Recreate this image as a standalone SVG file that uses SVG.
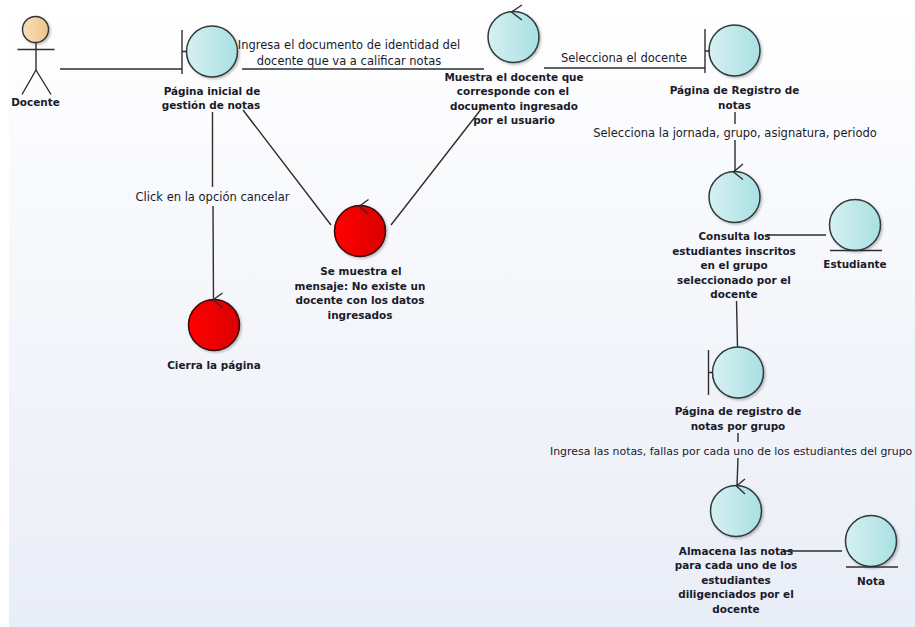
<svg xmlns="http://www.w3.org/2000/svg" width="915" height="627" viewBox="0 0 915 627">
<defs>
<linearGradient id="bg" x1="0" y1="0" x2="0" y2="1"><stop offset="0" stop-color="#ffffff"/><stop offset="1" stop-color="#e9edf6"/></linearGradient>
<linearGradient id="teal" x1="0" y1="0" x2="1" y2="0"><stop offset="0" stop-color="#d6f0f2"/><stop offset="1" stop-color="#a8e0e2"/></linearGradient>
<linearGradient id="red" x1="0" y1="0" x2="1" y2="0"><stop offset="0" stop-color="#ff0000"/><stop offset="1" stop-color="#d80000"/></linearGradient>
<linearGradient id="skin" x1="0" y1="0" x2="1" y2="0"><stop offset="0" stop-color="#f8dfb8"/><stop offset="1" stop-color="#eec48c"/></linearGradient>
<filter id="sh" x="-20%" y="-20%" width="150%" height="150%"><feDropShadow dx="1.5" dy="1.5" stdDeviation="1.2" flood-color="#000" flood-opacity="0.25"/></filter>
</defs>
<style>
.c{stroke:#2e2e2e;stroke-width:1.4;fill:none}
.t{fill:url(#teal);stroke:#2e3a3a;stroke-width:1.5;filter:url(#sh)}
.r{fill:url(#red);stroke:#3a0808;stroke-width:1.5;filter:url(#sh)}
.m{stroke:#2e2e2e;stroke-width:1.4;fill:none}
text{font-family:"DejaVu Sans","Liberation Sans",sans-serif;font-size:11.5px;fill:#1a1a2a;text-anchor:middle}
.b{font-weight:bold;font-size:10.45px}
</style>
<rect x="9" y="0" width="906" height="627" fill="url(#bg)"/>
<g id="connectors">
<path class="c" d="M60 69H182M242 69H484M544 68H705M212.500 112V187M213 206L213.500 300M243 110L331 225M391 225L482 108M735 112V124M735 140V172M767 235H826M736.500 301L737.500 347M738 433V442M738 458L737 486M783 551H842"/>
</g>
<g id="docente">
<circle cx="35.500" cy="29.500" r="13" fill="url(#skin)" stroke="#333" stroke-width="1.4" filter="url(#sh)"/>
<path class="m" d="M36 42.500V70M17.500 49.500H54.500M36 70L22 94.500M36 70L51 94.500"/>
<text class="b" x="35.500" y="106">Docente</text>
</g>
<g id="pagina-inicial">
<circle class="t" cx="212" cy="51.500" r="25.500"/>
<path class="m" d="M182 30V74M182 51.500H187"/>
<text class="b"><tspan x="212" y="95">Página inicial de</tspan><tspan x="211" y="109">gestión de notas</tspan></text>
</g>
<g id="muestra">
<circle class="t" cx="513.500" cy="37" r="25.500"/>
<path class="m" d="M522 5L511.500 12L522 20"/>
<text class="b"><tspan x="514" y="81">Muestra el docente que</tspan><tspan x="513" y="95">corresponde con el</tspan><tspan x="514" y="110">documento ingresado</tspan><tspan x="514" y="124">por el usuario</tspan></text>
</g>
<g id="pagina-registro">
<circle class="t" cx="734.500" cy="50.500" r="25.500"/>
<path class="m" d="M705 29V73M705 51H710"/>
<text class="b"><tspan x="734.500" y="94">Página de Registro de</tspan><tspan x="734.500" y="109">notas</tspan></text>
</g>
<g id="consulta">
<circle class="t" cx="734.500" cy="197" r="25.500"/>
<path class="m" d="M743 164L733.500 172L743 179.500"/>
<text class="b"><tspan x="734.500" y="240">Consulta los</tspan><tspan x="734" y="255">estudiantes inscritos</tspan><tspan x="734" y="269">en el grupo</tspan><tspan x="734" y="284">seleccionado por el</tspan><tspan x="734" y="298">docente</tspan></text>
</g>
<g id="estudiante">
<circle class="t" cx="855" cy="225" r="25.500"/>
<path class="m" d="M830 250.500H882"/>
<text class="b" x="855" y="268">Estudiante</text>
</g>
<g id="pagina-grupo">
<circle class="t" cx="738" cy="372.500" r="25.500"/>
<path class="m" d="M708.500 350V395M708.500 372.500H713"/>
<text class="b"><tspan x="738" y="415">Página de registro de</tspan><tspan x="738" y="430">notas por grupo</tspan></text>
</g>
<g id="almacena">
<circle class="t" cx="736" cy="511" r="25.500"/>
<path class="m" d="M745 479L736.500 486L745 494"/>
<text class="b"><tspan x="736" y="555">Almacena las notas</tspan><tspan x="736" y="569">para cada uno de los</tspan><tspan x="736" y="584">estudiantes</tspan><tspan x="736" y="598">diligenciados por el</tspan><tspan x="736" y="613">docente</tspan></text>
</g>
<g id="nota">
<circle class="t" cx="871" cy="541" r="25.500"/>
<path class="m" d="M846 567H898"/>
<text class="b" x="871" y="585">Nota</text>
</g>
<g id="mensaje">
<circle class="r" cx="360" cy="231" r="25.500"/>
<path class="m" d="M368.500 199.500L359 206.500L368.500 214"/>
<text class="b"><tspan x="361" y="275">Se muestra el</tspan><tspan x="360" y="290">mensaje: No existe un</tspan><tspan x="360" y="304">docente con los datos</tspan><tspan x="360" y="319">ingresados</tspan></text>
</g>
<g id="cierra">
<circle class="r" cx="214" cy="325" r="25.500"/>
<path class="m" d="M222.500 293L213 300L222.500 307.500"/>
<text class="b" x="214" y="369">Cierra la página</text>
</g>
<g id="labels">
<text><tspan x="349" y="49">Ingresa el documento de identidad del</tspan><tspan x="349" y="65">docente que va a calificar notas</tspan></text>
<text x="624" y="62">Selecciona el docente</text>
<text x="212.500" y="201">Click en la opción cancelar</text>
<text x="735" y="137">Selecciona la jornada, grupo, asignatura, periodo</text>
<text x="550" y="455" style="text-anchor:start;font-size:10.9px">Ingresa las notas, fallas por cada uno de los estudiantes del grupo</text>
</g>
</svg>
